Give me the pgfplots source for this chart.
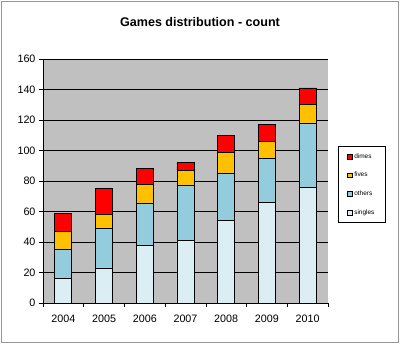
\documentclass[border=0pt]{standalone}
\usepackage{pgfplots}
\pgfplotsset{compat=1.18}
\usepackage{fontspec}
\setmainfont{Liberation Sans}
\definecolor{plotgray}{RGB}{192,192,192}
\definecolor{cdimes}{RGB}{255,0,0}
\definecolor{cfives}{RGB}{255,192,0}
\definecolor{cothers}{RGB}{147,205,221}
\definecolor{csingles}{RGB}{219,238,244}
\definecolor{framegray}{RGB}{150,150,150}
\begin{document}
\begin{tikzpicture}
\path[use as bounding box] (0bp,0bp) rectangle (400bp,344bp);
\fill[white] (0bp,0bp) rectangle (400bp,344bp);
\draw[framegray, line width=1bp] (1.5bp,1.5bp) rectangle (398.5bp,342.5bp);
\node[anchor=base, font=\bfseries\fontsize{12.6}{14}\selectfont, inner sep=0pt] at (200bp,317bp) {Games distribution - count};
\begin{axis}[
  at={(43bp,41bp)}, anchor=south west,
  scale only axis, width=285bp, height=244bp,
  xmin=-0.5, xmax=6.5, ymin=0, ymax=160,
  ybar stacked, bar width=17bp,
  axis background/.style={fill=plotgray},
  axis x line*=bottom, axis y line*=left,
  axis line style={-, black, line width=0.8bp},
  ytick={0,20,...,160},
  ymajorgrids, grid style={black, line width=0.7bp},
  tick align=outside, major tick length=4bp,
  tick style={black, line width=0.7bp},
  xtick={-0.5,0.5,...,6.5},
  xticklabels={2004,2005,2006,2007,2008,2009,2010},
  x tick label as interval,
  /pgf/number format/assume math mode=true,
  ticklabel style={font=\fontsize{10.8}{12}\selectfont},
  x tick label style={yshift=-4bp},
  y tick label style={/pgf/number format/1000 sep={}},
  reverse legend,
  legend cell align=left,
  legend style={at={(1.035,0.643)}, anchor=north west, draw=black, fill=white,
    font=\fontsize{6.5}{7}\selectfont, row sep=8.5bp, inner xsep=9bp, inner ysep=5bp,
    line width=0.8bp},
  legend image code/.code={\draw[#1, line width=0.5bp] (0bp,-2.2bp) rectangle (4.4bp,2.2bp);},
]
\addplot[fill=csingles, draw=black, line width=0.8bp] coordinates {(0,16) (1,23) (2,38) (3,41) (4,54) (5,66) (6,76)};
\addplot[fill=cothers, draw=black, line width=0.8bp] coordinates {(0,19) (1,26) (2,27) (3,36) (4,31) (5,29) (6,42)};
\addplot[fill=cfives, draw=black, line width=0.8bp] coordinates {(0,12) (1,9) (2,13) (3,10) (4,14) (5,11) (6,12)};
\addplot[fill=cdimes, draw=black, line width=0.8bp] coordinates {(0,12) (1,17) (2,10) (3,5) (4,11) (5,11) (6,11)};
\legend{singles,others,fives,dimes}
\end{axis}
\end{tikzpicture}
\end{document}
